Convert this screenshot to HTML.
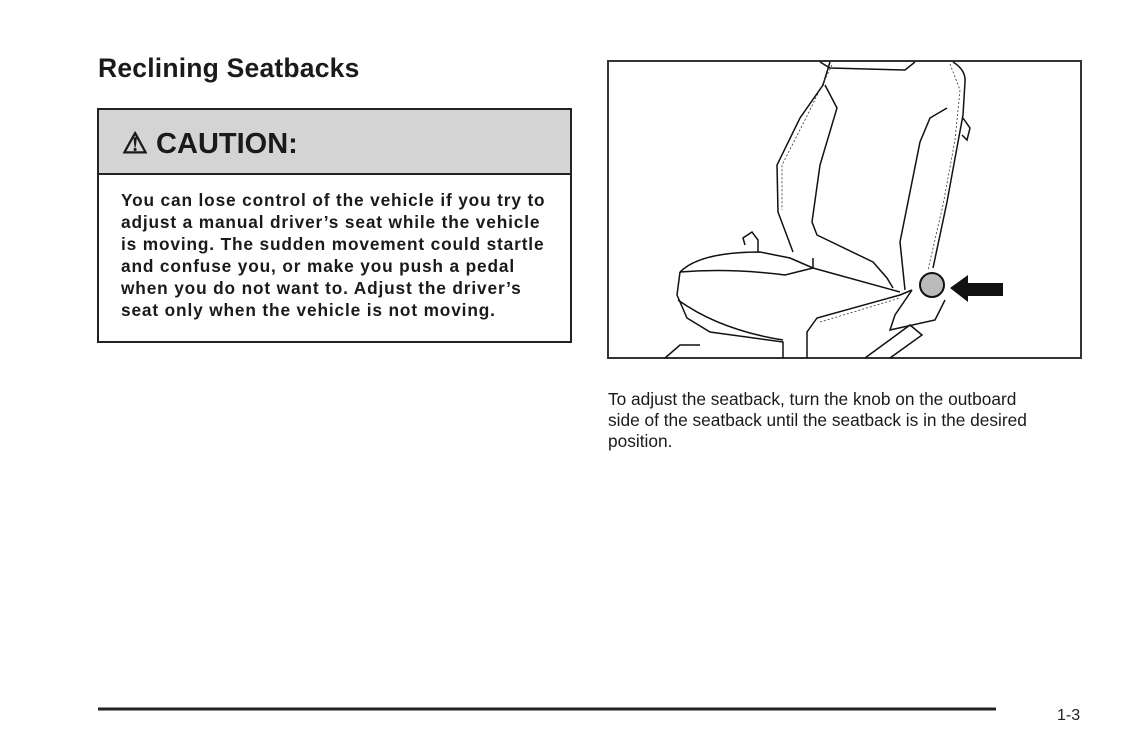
<!DOCTYPE html>
<html><head><meta charset="utf-8"><style>
body{margin:0;width:1123px;height:750px;background:#fff;position:relative;font-family:"Liberation Sans",Arial,sans-serif;color:#1a1a1a;overflow:hidden}
.a{position:absolute}
h1{position:absolute;left:98px;top:53px;margin:0;font-size:26.5px;font-weight:bold;letter-spacing:0.2px}
.box{left:97px;top:108px;width:471px;height:231px;border:2px solid #222}
.hd{position:absolute;left:0;top:0;width:471px;height:63px;background:#d4d4d4;border-bottom:2px solid #222}
.hd span{position:absolute;left:23px;top:16px;font-size:29px;font-weight:bold}
.bd{position:absolute;left:22px;top:79px;font-size:17.3px;font-weight:bold;line-height:22px;white-space:nowrap;letter-spacing:0.85px}
.p{left:608px;top:389px;font-size:17.3px;line-height:21px;white-space:nowrap}
</style></head><body>
<h1>Reclining Seatbacks</h1>
<div class="a box"><div class="hd"><span>⚠ CAUTION:</span></div>
<div class="bd">You can lose control of the vehicle if you try to<br>adjust a manual driver’s seat while the vehicle<br>is moving. The sudden movement could startle<br>and confuse you, or make you push a pedal<br>when you do not want to. Adjust the driver’s<br>seat only when the vehicle is not moving.</div></div>
<svg class="a" style="left:0;top:0" width="1123" height="750">
<rect x="608" y="61" width="473" height="297" fill="none" stroke="#333" stroke-width="2"/>
<g fill="none" stroke="#111" stroke-width="1.5">
<path d="M830 62 L823 85 L800 118 L777 165 L778 212 L793 252"/>
<path d="M953 62 Q966 70 965 82 L963 115 L958 142 L947 202 L933 268"/>
<path d="M825 85 L837 108 L820 165 L812 222 L817 235 L873 262 L887 278 L893 288"/>
<path d="M947 108 L930 118 L920 142 L900 242 L905 290"/>
<path d="M820 62 L830 68 L905 70 L915 62"/>
<path d="M680 272 Q700 252 760 252 L790 258 L813 268 L900 292"/>
<path d="M680 272 L677 295 L687 318 L710 332 L783 342 L783 358"/>
<path d="M678 300 Q720 330 783 340"/>
<path d="M807 358 L807 332 L817 318 L900 295 L912 290"/>
<path d="M912 290 L895 315 L890 330 L935 320 L945 300"/>
<path d="M745 245 L743 238 L752 232 L758 240 L758 252"/>
<path d="M680 272 Q730 268 785 275 L813 268"/>
<path d="M813 268 L813 258"/>
<path d="M865 358 L910 325 L922 335 L890 358"/>
<path d="M665 358 L680 345 L700 345"/>
<path d="M963 118 L970 128 L967 140 L962 135"/>
</g>
<g fill="none" stroke="#333" stroke-width="0.8" stroke-dasharray="2 2">
<path d="M950 64 L960 90 L955 140 L943 205 L928 270"/>
<path d="M832 65 L805 120 L782 165 L782 210"/>
<path d="M820 322 L900 298"/>
</g>
<circle cx="932" cy="285" r="12" fill="#bbb" stroke="#111" stroke-width="2"/>
<polygon points="950,288 968,275 968,283 1003,283 1003,296 968,296 968,302" fill="#111"/>
<line x1="98" y1="709" x2="996" y2="709" stroke="#222" stroke-width="3"/>
<text x="1057" y="720" font-family="Liberation Sans" font-size="16" fill="#222">1-3</text>
</svg>
<div class="a p">To adjust the seatback, turn the knob on the outboard<br>side of the seatback until the seatback is in the desired<br>position.</div>
</body></html>
